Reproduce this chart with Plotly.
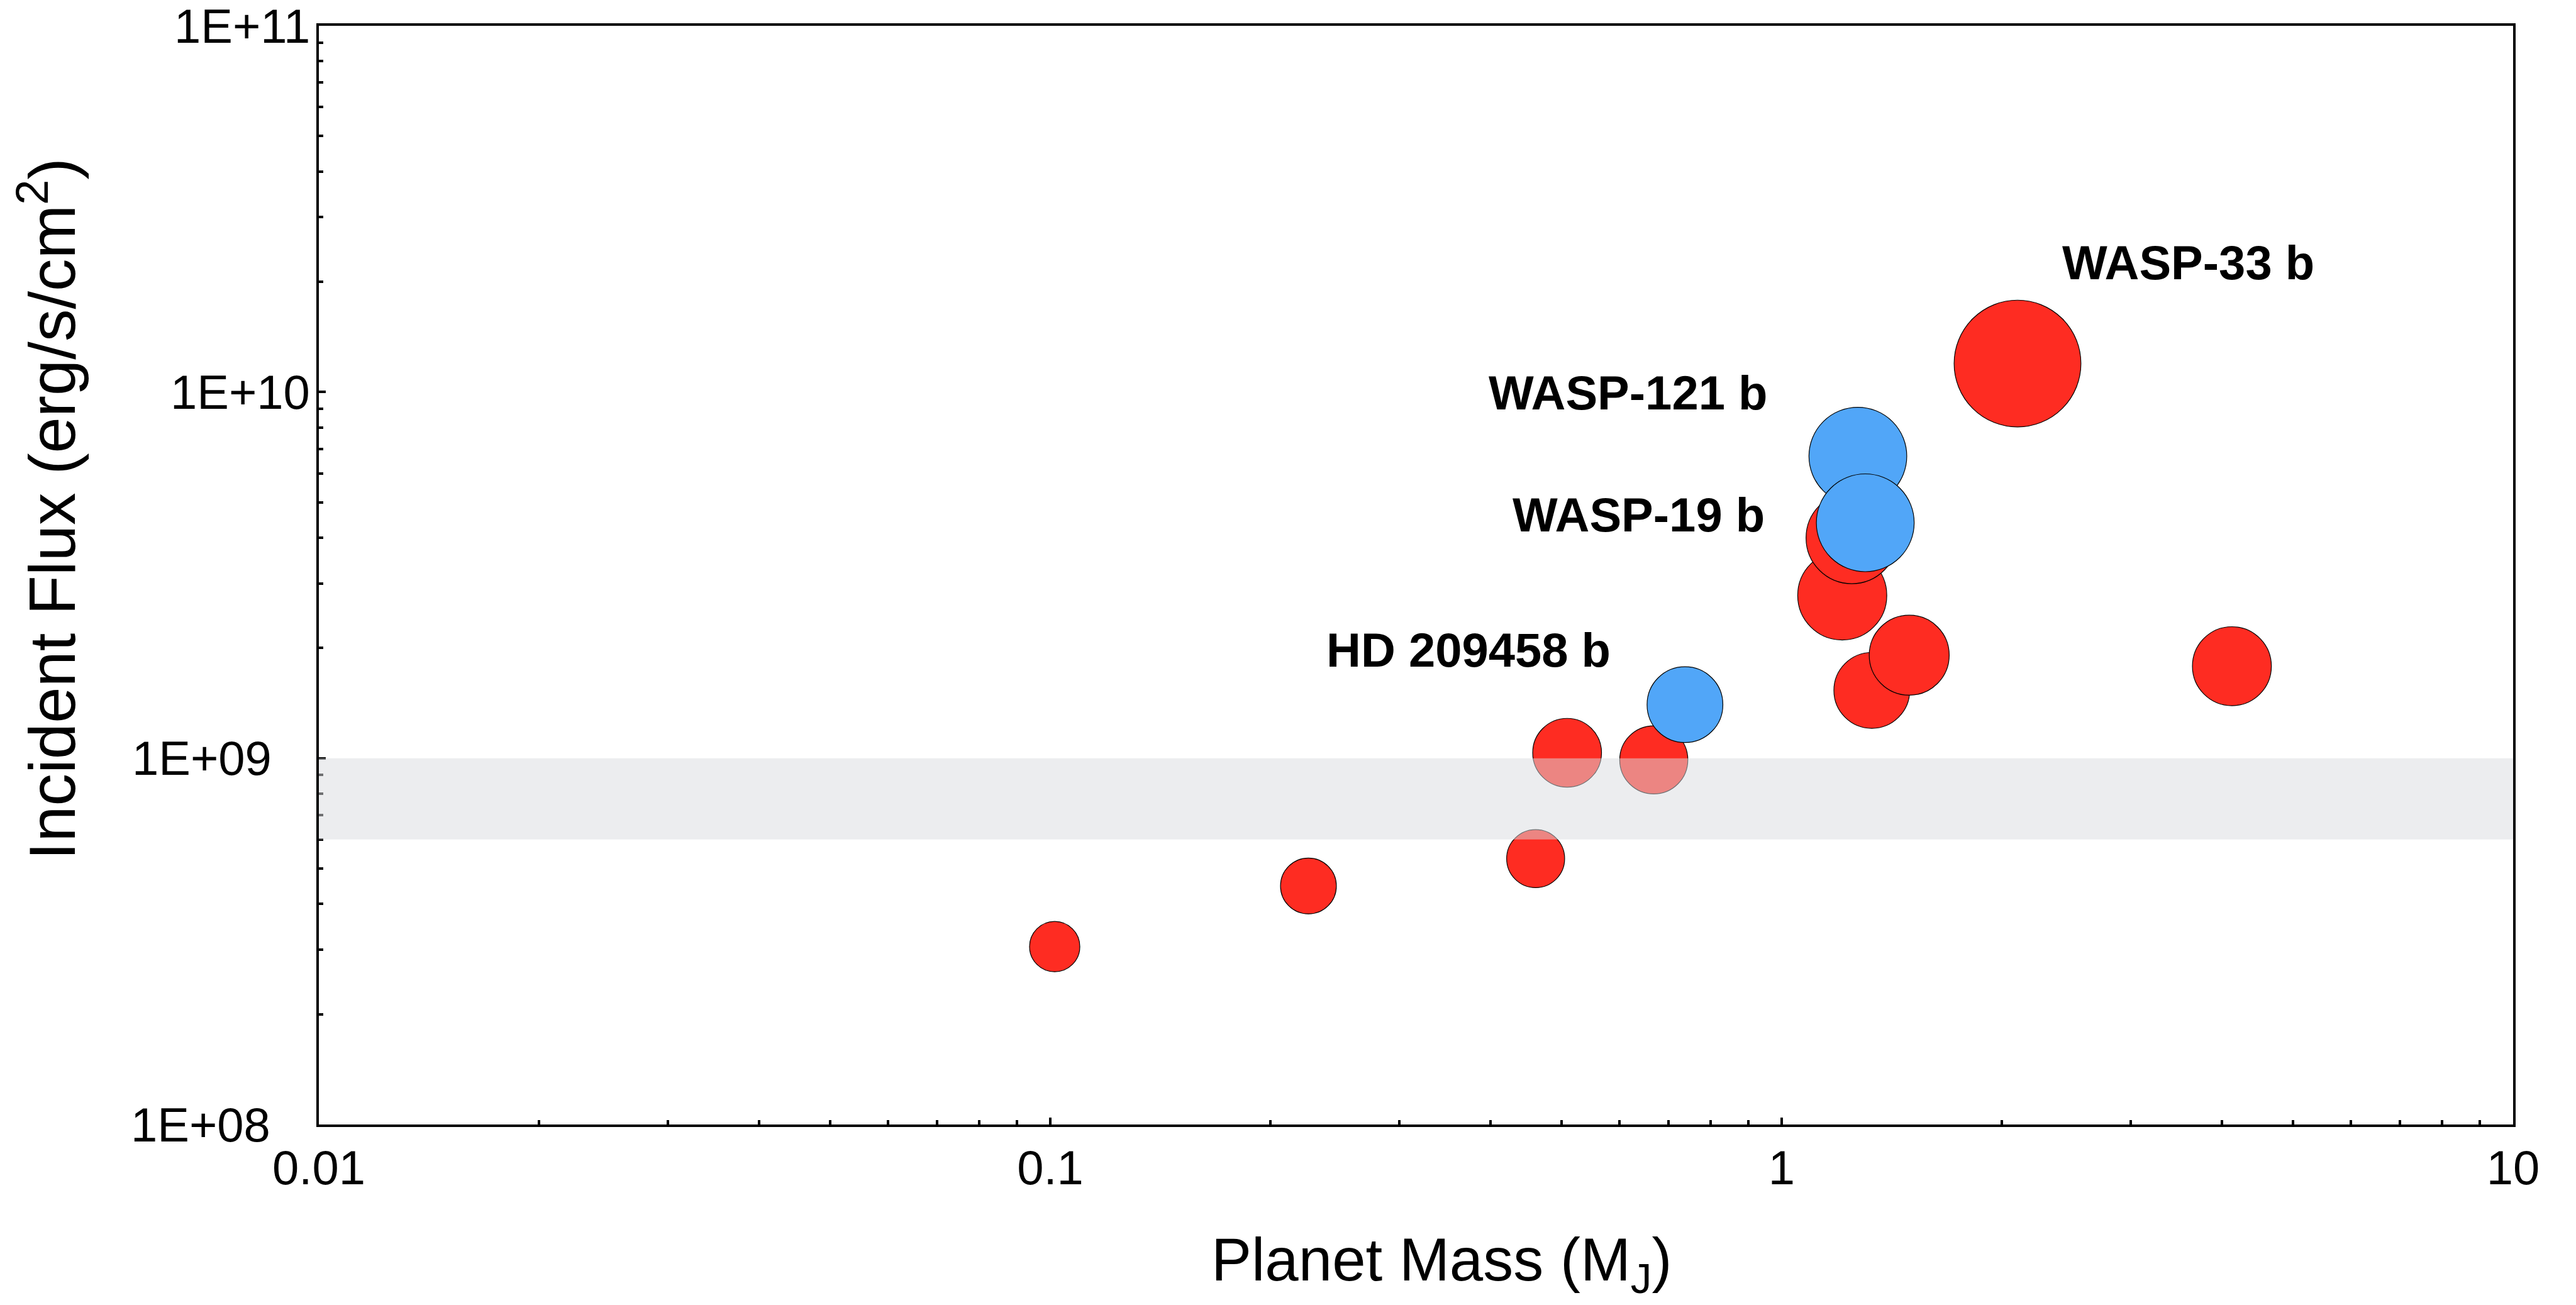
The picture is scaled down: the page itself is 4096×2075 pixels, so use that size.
import math
import plotly.graph_objects as go

# Hot Jupiters: planet mass (M_J) vs. incident stellar flux (erg/s/cm^2)
red_mass = [0.1014, 0.2254, 0.4609, 0.5089, 0.6685, 1.328, 1.494, 4.126, 1.210, 1.247, 2.101]
red_flux = [3.06e8, 4.48e8, 5.32e8, 1.035e9, 9.90e8, 1.532e9, 1.912e9, 1.784e9, 2.784e9, 3.996e9, 1.196e10]
red_bubble = [144, 160, 166, 197, 195, 217, 229, 226, 255, 262, 363]

blue_name = ["HD 209458 b", "WASP-121 b", "WASP-19 b"]
blue_mass = [0.7375, 1.271, 1.301]
blue_flux = [1.401e9, 6.68e9, 4.395e9]
blue_bubble = [217, 280, 280]

# shaded flux band
band_low = 6e8
band_high = 1e9

x_tickvals = [0.01, 0.1, 1, 10]
x_ticktext = ["0.01", "0.1", "1", "10"]
y_tickvals = [1e8, 1e9, 1e10, 1e11]
y_ticktext = ["1E+08", "1E+09", "1E+10", "1E+11"]
y_label_shift = [-75, -73, -12, -12]   # horizontal offset of each y label (px)

RED = "#FE2C22"
BLUE = "#51A6F8"
FONT = "Liberation Sans, Arial, Helvetica, sans-serif"
SIZEREF = 1 / 0.5555

fig = go.Figure()
fig.add_trace(go.Scatter(
    x=red_mass, y=red_flux, mode="markers",
    marker=dict(size=red_bubble, sizemode="diameter", sizeref=SIZEREF,
                color=RED, opacity=1, line=dict(color="black", width=1.2)),
    showlegend=False, hoverinfo="skip"))
fig.add_trace(go.Scatter(
    x=blue_mass, y=blue_flux, mode="markers",
    marker=dict(size=blue_bubble, sizemode="diameter", sizeref=SIZEREF,
                color=BLUE, opacity=1, line=dict(color="black", width=1.2)),
    showlegend=False, hoverinfo="skip"))

fig.add_shape(type="rect", xref="paper", x0=0, x1=1, yref="y",
              y0=band_low, y1=band_high, fillcolor="rgba(218,220,224,0.51)",
              line=dict(width=0), layer="above")

# planet labels, offset from their bubbles (pixels)
labels = [
    ("WASP-33 b", red_mass[-1], red_flux[-1], "left", 69, 161),
    ("WASP-121 b", blue_mass[1], blue_flux[1], "right", -142, 101),
    ("WASP-19 b", blue_mass[2], blue_flux[2], "right", -158, 13),
    ("HD 209458 b", blue_mass[0], blue_flux[0], "right", -116, 87),
]
for text, m, f, anchor, dx, dy in labels:
    fig.add_annotation(x=math.log10(m), y=math.log10(f), xref="x", yref="y",
                       text=f"<b>{text}</b>", showarrow=False,
                       xanchor=anchor, yanchor="middle", xshift=dx, yshift=dy,
                       font=dict(family=FONT, size=76, color="black"))

# y tick labels
for val, txt, dx in zip(y_tickvals, y_ticktext, y_label_shift):
    fig.add_annotation(x=0, y=math.log10(val), xref="paper", yref="y",
                       text=txt, showarrow=False, xanchor="right", yanchor="middle",
                       xshift=dx, font=dict(family=FONT, size=76, color="black"))

# axis titles
fig.add_annotation(x=0.5117, y=-0.127, xref="paper", yref="paper",
                   text="Planet Mass (M<sub>J</sub>)", showarrow=False,
                   xanchor="center", yanchor="middle",
                   font=dict(family=FONT, size=96, color="black"))
fig.add_annotation(x=-0.1236, y=0.560, xref="paper", yref="paper",
                   text="Incident Flux (erg/s/cm<sup>2</sup>)", showarrow=False,
                   textangle=-90, xanchor="center", yanchor="middle",
                   font=dict(family=FONT, size=103, color="black"))

minor_x = [m * 10 ** e for e in range(-2, 1) for m in range(2, 10)]
minor_y = [m * 10 ** e for e in range(8, 11) for m in range(2, 10)]

axis_common = dict(
    type="log", showline=True, linewidth=4, linecolor="black", mirror=True,
    ticks="inside", ticklen=11, tickwidth=4, tickcolor="black",
    tickmode="array", showgrid=False, zeroline=False,
    tickfont=dict(family=FONT, size=76, color="black"),
)
fig.update_xaxes(range=[-2, 1], tickvals=x_tickvals, ticktext=x_ticktext,
                 minor=dict(ticks="inside", ticklen=7, tickwidth=4, tickcolor="black",
                            tickmode="array", tickvals=minor_x, showgrid=False),
                 **axis_common)
fig.update_yaxes(range=[8, 11], tickvals=y_tickvals, showticklabels=False,
                 minor=dict(ticks="inside", ticklen=7, tickwidth=4, tickcolor="black",
                            tickmode="array", tickvals=minor_y, showgrid=False),
                 **axis_common)

fig.update_layout(
    width=4096, height=2075,
    margin=dict(l=507, r=100, t=41, b=287, pad=0),
    paper_bgcolor="white", plot_bgcolor="white",
    font=dict(family=FONT, color="black"),
)

fig.write_html("out.html", config={"displayModeBar": False})
